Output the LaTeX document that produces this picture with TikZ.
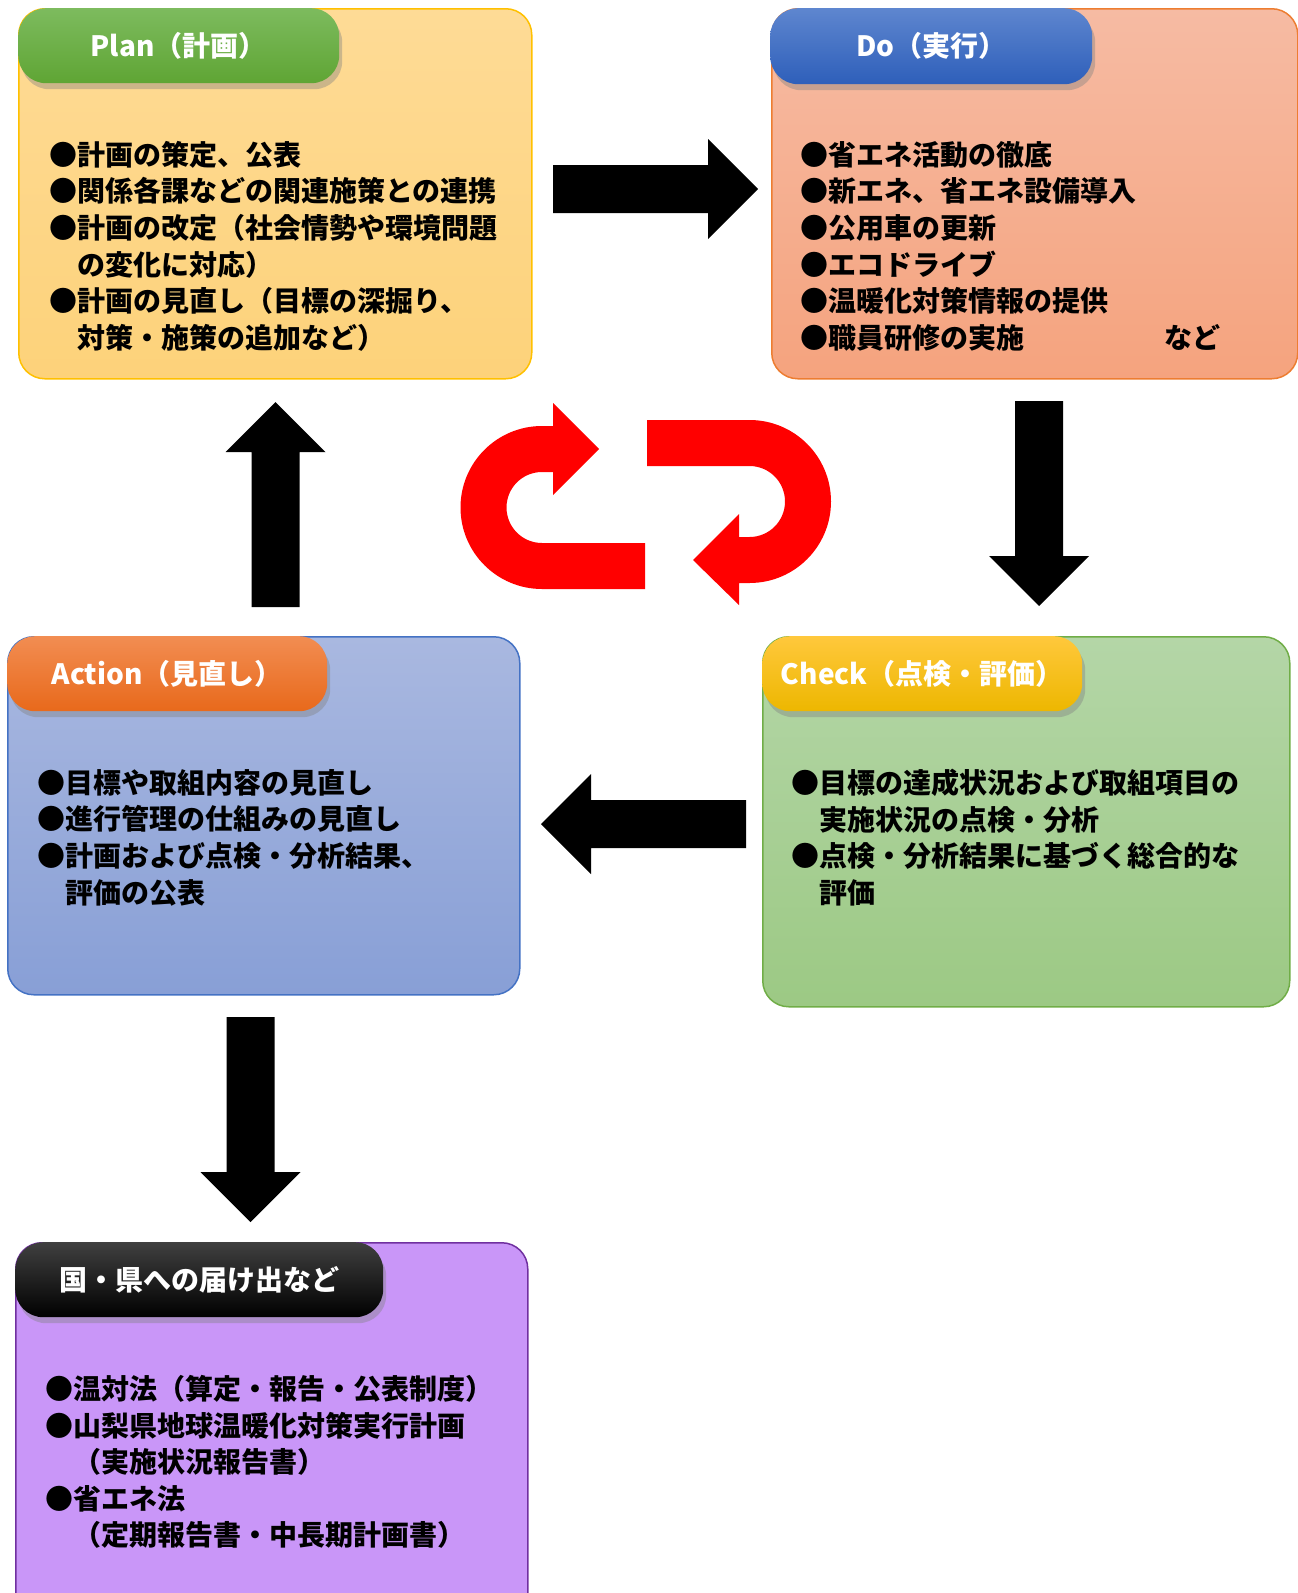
\documentclass[tikz,border=0pt]{standalone}
\usepackage{fontspec}
\newfontfamily\jp{Noto Sans CJK JP}
\usetikzlibrary{shadows}
\definecolor{planfill1}{HTML}{FEDB96}\definecolor{planfill2}{HTML}{FDD27A}\definecolor{planline}{HTML}{FFC000}
\definecolor{planhd1}{HTML}{7DBB5E}\definecolor{planhd2}{HTML}{5FA534}
\definecolor{dofill1}{HTML}{F6BBA3}\definecolor{dofill2}{HTML}{F5A37E}\definecolor{doline}{HTML}{ED7D31}
\definecolor{dohd1}{HTML}{5E86CF}\definecolor{dohd2}{HTML}{2E5FBA}
\definecolor{actfill1}{HTML}{A9B8E0}\definecolor{actfill2}{HTML}{889FD6}\definecolor{actline}{HTML}{4472C4}
\definecolor{acthd1}{HTML}{F28D52}\definecolor{acthd2}{HTML}{E8691B}
\definecolor{checkfill1}{HTML}{B4D6A7}\definecolor{checkfill2}{HTML}{9CC984}\definecolor{checkline}{HTML}{70AD47}
\definecolor{checkhd1}{HTML}{FFC83C}\definecolor{checkhd2}{HTML}{EDB700}
\definecolor{reportfill}{HTML}{C996F8}\definecolor{reportline}{HTML}{7030A0}
\definecolor{reporthd1}{HTML}{404040}\definecolor{reporthd2}{HTML}{000000}
\definecolor{cyclered}{HTML}{FF0000}
\begin{document}
\begin{tikzpicture}[x=1pt,y=-1pt,
  box/.style={draw,line width=1.5pt,rounded corners=26pt,anchor=north west,inner sep=0pt},
  head/.style={rounded corners=28pt,anchor=north west,inner sep=0pt,minimum height=75pt,text=white,font=\jp\bfseries\fontsize{28}{34}\selectfont,drop shadow={shadow xshift=3pt,shadow yshift=-6pt,opacity=0.4}},
  body/.style={anchor=north west,inner sep=0pt,align=left,font=\jp\bfseries\fontsize{28}{36.6}\selectfont},
  blockarrow/.pic={\fill[black] (0,-24) -- (155,-24) -- (155,-50) -- (205,0) -- (155,50) -- (155,24) -- (0,24) -- cycle;}]
  \useasboundingbox (0,0) rectangle (1298,1593);

  \node[box,draw=planline,top color=planfill1,bottom color=planfill2,minimum width=513pt,minimum height=370pt] (plan) at (18,8) {};
  \node[box,draw=doline,top color=dofill1,bottom color=dofill2,minimum width=526pt,minimum height=370pt] (do) at (771,8) {};
  \node[box,draw=actline,top color=actfill1,bottom color=actfill2,minimum width=512pt,minimum height=358pt] (act) at (7,636) {};
  \node[box,draw=checkline,top color=checkfill1,bottom color=checkfill2,minimum width=527pt,minimum height=370pt] (check) at (762,636) {};
  \node[box,draw=reportline,fill=reportfill,minimum width=512pt,minimum height=400pt] (report) at (15,1242) {};

  \node[head,top color=planhd1,bottom color=planhd2,minimum width=321pt] (planhd) at (plan.north west) {Plan（計画）};
  \node[head,top color=dohd1,bottom color=dohd2,minimum width=322pt,minimum height=76pt] (dohd) at (770,8) {Do（実行）};
  \node[head,top color=acthd1,bottom color=acthd2,minimum width=320pt] (acthd) at (act.north west) {Action（見直し）};
  \node[head,top color=checkhd1,bottom color=checkhd2,minimum width=320pt] (checkhd) at (check.north west) {Check（点検・評価）};
  \node[head,top color=reporthd1,bottom color=reporthd2,minimum width=368pt] (reporthd) at (report.north west) {国・県への届け出など};

  \node[body] (plantxt) at (49,141) {●計画の策定、公表\\●関係各課などの関連施策との連携\\●計画の改定（社会情勢や環境問題\\　の変化に対応）\\●計画の見直し（目標の深掘り、\\　対策・施策の追加など）};
  \node[body] (dotxt) at (800,141) {●省エネ活動の徹底\\●新エネ、省エネ設備導入\\●公用車の更新\\●エコドライブ\\●温暖化対策情報の提供\\●職員研修の実施　　　　　など};
  \node[body] (acttxt) at (37,769) {●目標や取組内容の見直し\\●進行管理の仕組みの見直し\\●計画および点検・分析結果、\\　評価の公表};
  \node[body] (checktxt) at (791,769) {●目標の達成状況および取組項目の\\　実施状況の点検・分析\\●点検・分析結果に基づく総合的な\\　評価};
  \node[body] (reporttxt) at (45,1375) {●温対法（算定・報告・公表制度）\\●山梨県地球温暖化対策実行計画\\　（実施状況報告書）\\●省エネ法\\　（定期報告書・中長期計画書）};

  \coordinate (plan2do) at (553,189);
  \coordinate (do2check) at (1039,401);
  \coordinate (check2act) at (746,824);
  \coordinate (act2plan) at (275.5,607);
  \coordinate (act2report) at (250.5,1017);
  \pic at (plan2do) {blockarrow};
  \pic[rotate=-90] at (do2check) {blockarrow};
  \pic[rotate=180] at (check2act) {blockarrow};
  \pic[rotate=90] at (act2plan) {blockarrow};
  \pic[rotate=-90] at (act2report) {blockarrow};

  \fill[cyclered] (645,543) -- (542,543) arc[start angle=90,end angle=270,radius=35.5] -- (553,472) -- (553,495) -- (599,449) -- (553,403) -- (553,426) -- (542,426) arc[start angle=270,end angle=90,radius=81.5] -- (645,589) -- cycle;
  \fill[cyclered] (647,420) -- (749.5,420) arc[start angle=270,end angle=450,radius=81.5] -- (739,583) -- (739,605) -- (693,560) -- (739,514) -- (739,537) -- (749.5,537) arc[start angle=90,end angle=-90,radius=35.5] -- (647,466) -- cycle;
\end{tikzpicture}
\end{document}
